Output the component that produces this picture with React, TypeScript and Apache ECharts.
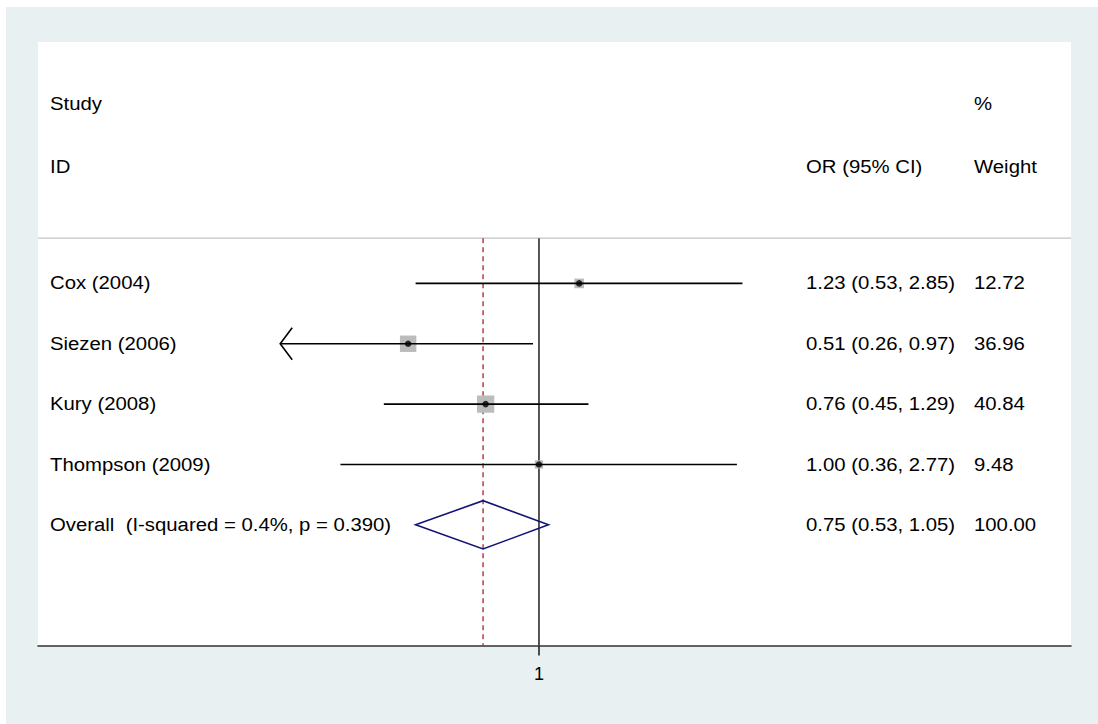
import React, { useEffect, useRef } from "react";
import * as echarts from "echarts";

// ---- data ----
const studies = ["Cox (2004)", "Siezen (2006)", "Kury (2008)", "Thompson (2009)"];
const orValues = [1.23, 0.51, 0.76, 1.0];
const ciLower = [0.53, 0.26, 0.45, 0.36];
const ciUpper = [2.85, 0.97, 1.29, 2.77];
const weights = [12.72, 36.96, 40.84, 9.48];

const overallLabel = "Overall  (I-squared = 0.4%, p = 0.390)";
const overallOR = 0.75;
const overallLower = 0.53;
const overallUpper = 1.05;
const overallWeight = 100.0;

const xTickValues = [1];
const xClipMin = 0.264; // CIs below this are drawn with an arrow

const headerLeft = ["Study", "ID"];
const headerOR = ["", "OR (95% CI)"];
const headerWeight = ["%", "Weight"];

// ---- layout constants ----
const FONT = "Liberation Sans, Arial, Helvetica, sans-serif";
const FS = 18;
const SX = 1.13;
const COL_LABEL = 50;
const COL_OR = 806;
const COL_W = 974;
const HEADER_ROWS = [-1.97, -0.93];
const HEADER_LINE_ROW = 0.25;
const Y_MIN = -3;
const Y_MAX = 7;
const X_MIN = 0.0759;
const X_MAX = 15.46;

const fmt = (v: number) => v.toFixed(2);

function txt(x: number, y: number, text: string) {
  return {
    type: "text",
    x,
    y,
    scaleX: SX,
    scaleY: 1,
    style: {
      x: 0,
      y: 0,
      text,
      fill: "#000",
      font: `${FS}px ${FONT}`,
      fontSize: FS,
      fontFamily: FONT,
      align: "left",
      verticalAlign: "middle",
    },
  };
}

export default function App() {
  const ref = useRef<HTMLDivElement>(null);

  useEffect(() => {
    document.body.style.margin = "0";
    if (!ref.current) return;
    const chart = echarts.init(ref.current, undefined, { renderer: "svg" });

    const nStudies = studies.length;
    const rows = studies.map((_, i) => i + 1);
    const overallRow = nStudies + 1;

    // table text rows: [x, row, index]
    const tableData = rows.map((r, i) => [1, r, i]);
    tableData.push([1, overallRow, nStudies]);

    const rowLabel = (i: number) => (i < nStudies ? studies[i] : overallLabel);
    const rowOR = (i: number) =>
      i < nStudies
        ? `${fmt(orValues[i])} (${fmt(ciLower[i])}, ${fmt(ciUpper[i])})`
        : `${fmt(overallOR)} (${fmt(overallLower)}, ${fmt(overallUpper)})`;
    const rowW = (i: number) => (i < nStudies ? fmt(weights[i]) : fmt(overallWeight));

    const option: any = {
      animation: false,
      backgroundColor: "transparent",
      grid: {
        left: 38,
        right: 27,
        top: 42,
        bottom: 78.5,
        show: true,
        backgroundColor: "#ffffff",
        borderWidth: 0,
      },
      xAxis: {
        type: "log",
        logBase: 10,
        min: X_MIN,
        max: X_MAX,
        position: "bottom",
        splitLine: { show: false },
        axisLine: { show: true, onZero: false, lineStyle: { color: "#333", width: 1.6 } },
        axisTick: {
          show: true,
          customValues: xTickValues,
          length: 10,
          lineStyle: { color: "#222", width: 1.6 },
        },
        axisLabel: {
          show: true,
          customValues: xTickValues,
          formatter: (v: number) => String(Math.round(v * 100) / 100),
          color: "#000",
          fontSize: FS,
          fontFamily: FONT,
          margin: 19,
        },
        minorTick: { show: false },
      },
      yAxis: {
        type: "value",
        inverse: true,
        min: Y_MIN,
        max: Y_MAX,
        show: false,
      },
      series: [
        // header separator line
        {
          type: "custom",
          silent: true,
          clip: false,
          z: 1,
          data: [[1, HEADER_LINE_ROW]],
          renderItem: (params: any, api: any) => {
            const y = api.coord([1, api.value(1)])[1];
            const cs = params.coordSys;
            return {
              type: "line",
              shape: { x1: cs.x, y1: y, x2: cs.x + cs.width, y2: y },
              style: { stroke: "#c4c4c4", lineWidth: 1.2 },
            };
          },
        },
        // reference lines: null at 1 (solid) and overall estimate (dashed)
        {
          type: "custom",
          silent: true,
          clip: false,
          z: 2,
          data: [
            [1, HEADER_LINE_ROW, Y_MAX, 0],
            [overallOR, HEADER_LINE_ROW, Y_MAX, 1],
          ],
          renderItem: (params: any, api: any) => {
            const x = api.value(0);
            const p1 = api.coord([x, api.value(1)]);
            const p2 = api.coord([x, api.value(2)]);
            const dashed = api.value(3) === 1;
            return {
              type: "line",
              shape: { x1: p1[0], y1: p1[1], x2: p2[0], y2: p2[1] },
              style: dashed
                ? { stroke: "#a8202e", lineWidth: 1.3, lineDash: [5, 4] }
                : { stroke: "#444", lineWidth: 1.8 },
            };
          },
        },
        // weight boxes
        {
          type: "scatter",
          silent: true,
          z: 3,
          symbol: "rect",
          data: orValues.map((v, i) => [v, rows[i], weights[i]]),
          symbolSize: (val: number[]) => Math.sqrt(val[2]) * 2.7,
          itemStyle: { color: "#bcbcbc", opacity: 1 },
        },
        // confidence intervals
        {
          type: "custom",
          silent: true,
          clip: false,
          z: 4,
          data: orValues.map((v, i) => [v, rows[i], ciLower[i], ciUpper[i]]),
          renderItem: (params: any, api: any) => {
            const row = api.value(1);
            const lo = api.value(2);
            const hi = api.value(3);
            const clipped = lo < xClipMin;
            const p1 = api.coord([clipped ? xClipMin : lo, row]);
            const p2 = api.coord([hi, row]);
            const children: any[] = [
              {
                type: "line",
                shape: { x1: p1[0], y1: p1[1], x2: p2[0], y2: p2[1] },
                style: { stroke: "#000", lineWidth: 1.6 },
              },
            ];
            if (clipped) {
              children.push({
                type: "polyline",
                shape: {
                  points: [
                    [p1[0] + 12, p1[1] - 16],
                    [p1[0], p1[1]],
                    [p1[0] + 12, p1[1] + 16],
                  ],
                },
                style: { stroke: "#000", lineWidth: 1.6, fill: "none" },
              });
            }
            return { type: "group", children };
          },
        },
        // point estimates
        {
          type: "scatter",
          silent: true,
          z: 5,
          symbol: "circle",
          symbolSize: 6.5,
          data: orValues.map((v, i) => [v, rows[i]]),
          itemStyle: { color: "#000" },
        },
        // overall diamond
        {
          type: "custom",
          silent: true,
          clip: false,
          z: 5,
          data: [[overallOR, overallRow, overallLower, overallUpper]],
          renderItem: (params: any, api: any) => {
            const est = api.value(0);
            const row = api.value(1);
            const lo = api.value(2);
            const hi = api.value(3);
            const pl = api.coord([lo, row]);
            const pr = api.coord([hi, row]);
            const pt = api.coord([est, row - 0.4]);
            const pb = api.coord([est, row + 0.4]);
            return {
              type: "polygon",
              shape: { points: [pl, pt, pr, pb] },
              style: { stroke: "#141478", lineWidth: 1.6, fill: "none" },
            };
          },
        },
        // header texts
        {
          type: "custom",
          silent: true,
          clip: false,
          z: 6,
          data: HEADER_ROWS.map((r, i) => [1, r, i]),
          renderItem: (params: any, api: any) => {
            const i = api.value(2);
            const y = api.coord([1, api.value(1)])[1];
            const children: any[] = [txt(COL_LABEL, y, headerLeft[i])];
            if (headerOR[i]) children.push(txt(COL_OR, y, headerOR[i]));
            if (headerWeight[i]) children.push(txt(COL_W, y, headerWeight[i]));
            return { type: "group", children };
          },
        },
        // table texts
        {
          type: "custom",
          silent: true,
          clip: false,
          z: 6,
          data: tableData,
          renderItem: (params: any, api: any) => {
            const i = api.value(2);
            const y = api.coord([1, api.value(1)])[1];
            return {
              type: "group",
              children: [
                txt(COL_LABEL, y, rowLabel(i)),
                txt(COL_OR, y, rowOR(i)),
                txt(COL_W, y, rowW(i)),
              ],
            };
          },
        },
      ],
    };

    chart.setOption(option);
    return () => chart.dispose();
  }, []);

  return (
    <div style={{ position: "relative", width: 1098, height: 724, background: "#ffffff" }}>
      <div
        style={{
          position: "absolute",
          left: 6,
          top: 7,
          width: 1092,
          height: 717,
          background: "#e8f0f2",
        }}
      />
      <div
        ref={ref}
        style={{ position: "absolute", left: 0, top: 0, width: 1098, height: 724 }}
      />
    </div>
  );
}
